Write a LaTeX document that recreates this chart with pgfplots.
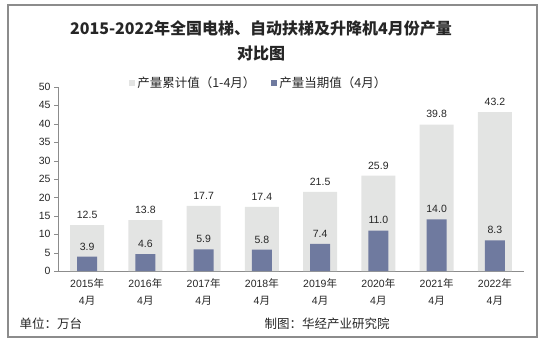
\documentclass[border=0pt]{standalone}
\usepackage{pgfplots}
\pgfplotsset{compat=1.18}
\usepackage{fontspec}
\setmainfont{Liberation Sans}
\newfontfamily\cjk{Noto Sans CJK SC}
\definecolor{lgray}{HTML}{E3E4E3}
\definecolor{dblue}{HTML}{6F7A9F}
\definecolor{txt}{HTML}{262626}
\definecolor{axgray}{HTML}{8C8C8C}
\newcommand\yr[1]{#1{\cjk 年}\\4{\cjk 月}}
\begin{document}
\begin{tikzpicture}[x=1bp,y=1bp]
\useasboundingbox (0,0) rectangle (544,341);
\draw[axgray, line width=1.2bp] (8,4) rectangle (537,336);
\node[txt, font=\cjk\bfseries\fontsize{16bp}{18bp}\selectfont] at (261,313) {2015-2022年全国电梯、自动扶梯及升降机4月份产量};
\node[txt, font=\cjk\bfseries\fontsize{16bp}{18bp}\selectfont] at (261,288) {对比图};
\node[txt, anchor=west, font=\cjk\fontsize{12.5bp}{14bp}\selectfont] at (16,17) {单位：万台};
\node[txt, anchor=west, font=\cjk\fontsize{12.5bp}{14bp}\selectfont] at (261,17) {制图：华经产业研究院};
\begin{axis}[
  at={(58bp,70bp)}, anchor=south west,
  scale only axis, width=466bp, height=184bp,
  xmin=-0.5, xmax=7.5, ymin=0, ymax=50,
  ytick={0,5,...,50},
  xtick={0,...,7},
  xticklabels={\yr{2015},\yr{2016},\yr{2017},\yr{2018},\yr{2019},\yr{2020},\yr{2021},\yr{2022}},
  xticklabel style={align=center, text=txt, font=\fontsize{10.5bp}{17bp}\selectfont},
  yticklabel style={text=txt, font=\fontsize{10.5bp}{12bp}\selectfont},
  /pgf/number format/assume math mode=true,
  major x tick style={draw=none},
  extra x ticks={-0.5,0.5,...,7.5},
  extra x tick labels={},
  extra x tick style={major tick length=5bp, tick style={draw=axgray}},
  axis x line*=bottom, axis y line*=left,
  axis line style={draw=axgray},
  y axis line style={-}, x axis line style={-},
  tick align=outside,
  major tick length=4bp,
  ytick style={draw=axgray},
  legend columns=2,
  legend style={at={(0.431,1.022)}, anchor=center, draw=none, fill=none,
    font=\cjk\fontsize{12.5bp}{14bp}\selectfont, text=txt,
    /tikz/every even column/.append style={column sep=14bp}},
  legend image code/.code={\fill[#1] (0bp,-3bp) rectangle (6bp,3bp);},
  nodes near coords,
  nodes near coords style={text=txt, font=\fontsize{10.5bp}{12bp}\selectfont,
    /pgf/number format/fixed, /pgf/number format/fixed zerofill,
    /pgf/number format/precision=1, /pgf/number format/assume math mode=true},
  clip=false,
]
\addplot[ybar, bar width=34bp, bar shift=0pt, fill=lgray, draw=none,
  every node near coord/.append style={yshift=3bp}] coordinates {
  (0,12.5) (1,13.8) (2,17.7) (3,17.4) (4,21.5) (5,25.9) (6,39.8) (7,43.2)};
\addlegendentry{产量累计值（1-4月）}
\addplot[ybar, bar width=20bp, bar shift=0pt, fill=dblue, draw=none,
  every node near coord/.append style={yshift=3bp}] coordinates {
  (0,3.9) (1,4.6) (2,5.9) (3,5.8) (4,7.4) (5,11.0) (6,14.0) (7,8.3)};
\addlegendentry{产量当期值（4月）}
\end{axis}
\end{tikzpicture}
\end{document}
